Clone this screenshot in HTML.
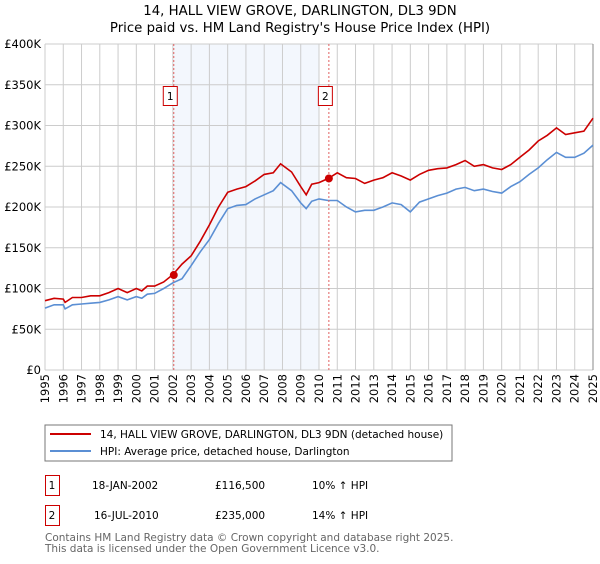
<!DOCTYPE html>
<html><head><meta charset="utf-8"><style>
body{margin:0;width:600px;height:560px;background:#fff;font-family:"DejaVu Sans","Liberation Sans",sans-serif;overflow:hidden}
svg text{font-family:"DejaVu Sans","Liberation Sans",sans-serif}
</style></head><body>
<svg id="chart" width="600" height="560">
<text x="300" y="15" text-anchor="middle" font-size="13.3">14, HALL VIEW GROVE, DARLINGTON, DL3 9DN</text>
<text x="300" y="32" text-anchor="middle" font-size="13.3">Price paid vs. HM Land Registry's House Price Index (HPI)</text>
<g id="grid"></g><g id="series"></g><g id="axes"></g>
<rect x="45" y="425" width="407" height="36" fill="#fff" stroke="#777"/>
<line x1="50" y1="434" x2="91" y2="434" stroke="#cc0000" stroke-width="2"/>
<text x="100" y="438" font-size="10.5">14, HALL VIEW GROVE, DARLINGTON, DL3 9DN (detached house)</text>
<line x1="50" y1="451" x2="91" y2="451" stroke="#5b8fd4" stroke-width="2"/>
<text x="100" y="455" font-size="10.5">HPI: Average price, detached house, Darlington</text>
<g>
<rect x="45.5" y="475.5" width="14" height="20" fill="none" stroke="#cc0000"/>
<text x="52" y="489" font-size="10.5" text-anchor="middle">1</text>
<text x="92" y="489" font-size="10.5">18-JAN-2002</text>
<text x="215" y="489" font-size="10.5">£116,500</text>
<text x="312" y="489" font-size="10.5">10% ↑ HPI</text></g>
<g>
<rect x="45.5" y="505.5" width="14" height="20" fill="none" stroke="#cc0000"/>
<text x="52" y="519" font-size="10.5" text-anchor="middle">2</text>
<text x="94" y="519" font-size="10.5">16-JUL-2010</text>
<text x="215" y="519" font-size="10.5">£235,000</text>
<text x="312" y="519" font-size="10.5">14% ↑ HPI</text></g>
<text x="45" y="541" font-size="10.5" fill="#666">Contains HM Land Registry data © Crown copyright and database right 2025.</text>
<text x="45" y="552" font-size="10.5" fill="#666">This data is licensed under the Open Government Licence v3.0.</text>
</svg>
<script>
const hpiDates=[1995,1995.5,1996,1996.1,1996.5,1997,1997.5,1998,1998.5,1999,1999.5,2000,2000.3,2000.6,2001,2001.5,2002,2002.5,2003,2003.5,2004,2004.5,2005,2005.5,2006,2006.5,2007,2007.5,2007.9,2008.5,2009,2009.3,2009.6,2010,2010.5,2011,2011.5,2012,2012.5,2013,2013.5,2014,2014.5,2015,2015.5,2016,2016.5,2017,2017.5,2018,2018.5,2019,2019.5,2020,2020.5,2021,2021.5,2022,2022.5,2023,2023.5,2024,2024.5,2025];
const hpiValues=[76,80,80,75,80,81,82,83,86,90,86,90,88,93,94,100,107,112,128,145,160,180,198,202,203,210,215,220,230,220,205,198,207,210,208,208,200,194,196,196,200,205,203,194,206,210,214,217,222,224,220,222,219,217,225,231,240,248,258,267,261,261,266,276];
const ppValues=[85,88,87,83,89,89,91,91,95,100,95,100,97,103,103,108,117,130,140,158,178,200,218,222,225,232,240,242,253,243,225,215,228,230,235,242,236,235,229,233,236,242,238,233,240,245,247,248,252,257,250,252,248,246,252,261,270,281,288,297,289,291,293,309];
const sales=[{t:2002.05,v:116.5,label:"1"},{t:2010.54,v:235,label:"2"}];
const yTicks=[0,50,100,150,200,250,300,350,400];
const yLabels=["£0","£50K","£100K","£150K","£200K","£250K","£300K","£350K","£400K"];
const xYears=[];for(let y=1995;y<=2025;y++)xYears.push(y);
const X=t=>45+(t-1995)*(548/30), Y=v=>370-v*(326/400);
const NS="http://www.w3.org/2000/svg";
function mk(p,tag,a){const e=document.createElementNS(NS,tag);for(const k in a)e.setAttribute(k,a[k]);p.appendChild(e);return e;}
const grid=document.getElementById('grid'),ser=document.getElementById('series'),ax=document.getElementById('axes');
const shade=mk(grid,'rect',{x:X(2002.05),y:44,width:X(2010.0)-X(2002.05),height:326,fill:'#eef3fc',opacity:0.7});


xYears.forEach(y=>{const l=mk(grid,'line',{x1:X(y),x2:X(y),y1:44,y2:370,stroke:'#ccc'});


const t=mk(ax,'text',{x:X(y)+4,y:374,'font-size':11.5,'text-anchor':'end',transform:`rotate(-90 ${X(y)+4} 374)`});t.textContent=y;

});
yTicks.forEach((v,i)=>{const l=mk(grid,'line',{x1:45,x2:593,y1:Y(v),y2:Y(v),stroke:'#ccc'});


const t=mk(ax,'text',{x:41,y:Y(v)+4,'font-size':11.5,'text-anchor':'end'});t.textContent=yLabels[i];

});
const endl=mk(grid,'line',{x1:593,x2:593,y1:44,y2:370,stroke:'#888'});


function path(vals,col,name){const d=hpiDates.map((t,i)=>(i?'L':'M')+X(t).toFixed(1)+','+Y(vals[i]).toFixed(1)).join('');
const p=mk(ser,'path',{d:d,fill:'none',stroke:col,'stroke-width':1.6});

}
path(hpiValues,'#5b8fd4','hpi-line');
path(ppValues,'#cc0000','property-line');
sales.forEach(s=>{const l=mk(ser,'line',{x1:X(s.t),x2:X(s.t),y1:44,y2:370,stroke:'#e06060','stroke-dasharray':'2,2'});


const c=mk(ser,'circle',{cx:X(s.t),cy:Y(s.v),r:4,fill:'#cc0000'});


const r=mk(ser,'rect',{x:X(s.t)-10.5,y:86.5,width:14,height:19,fill:'#fff',stroke:'#cc0000'});


const t=mk(ser,'text',{x:X(s.t)-3.5,y:100,'font-size':10.5,'text-anchor':'middle'});t.textContent=s.label;

});
</script>
</body></html>
